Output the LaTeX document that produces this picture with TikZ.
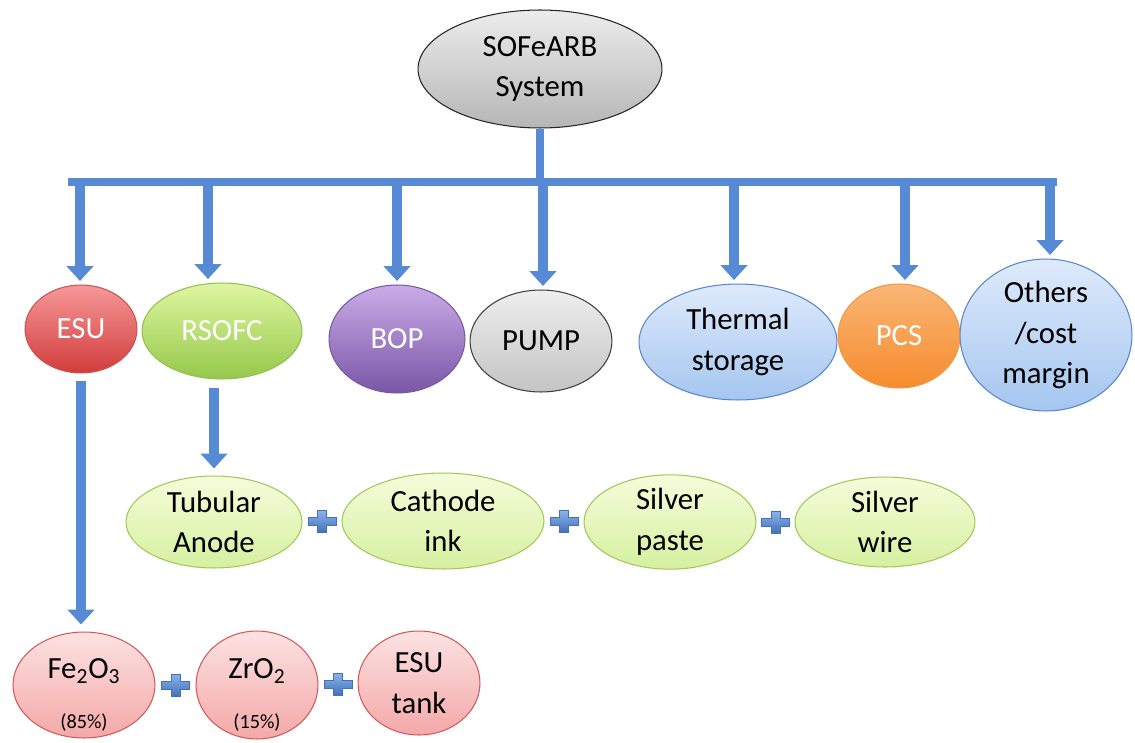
\documentclass[tikz,border=0pt]{standalone}
\usepackage{fontspec}
\setmainfont{Carlito}
\usetikzlibrary{shapes.geometric,arrows.meta,calc}

\definecolor{arrowblue}{RGB}{86,138,212}
\definecolor{arrowdark}{RGB}{66,112,185}
\definecolor{pluslight}{RGB}{140,180,235}

\begin{document}
\begin{tikzpicture}[x=0.02cm,y=-0.02cm,
  lbl/.style={font=\fontsize{17.5}{23}\selectfont, align=center},
  oval/.style n args={2}{ellipse, inner sep=0pt, align=center,
    font=\fontsize{17.5}{23}\selectfont,
    minimum width=#1*0.04cm, minimum height=#2*0.04cm, line width=0.6pt},
  sysnode/.style={top color={rgb,255:red,236;green,236;blue,236}, bottom color={rgb,255:red,182;green,182;blue,182}, draw=black!85},
  esunode/.style={top color={rgb,255:red,246;green,152;blue,152}, bottom color={rgb,255:red,210;green,60;blue,60}, draw={rgb,255:red,200;green,85;blue,85}, text=white},
  rsofcnode/.style={top color={rgb,255:red,222;green,246;blue,160}, bottom color={rgb,255:red,150;green,200;blue,75}, draw={rgb,255:red,150;green,190;blue,85}, text=white},
  bopnode/.style={top color={rgb,255:red,202;green,172;blue,232}, bottom color={rgb,255:red,122;green,86;blue,166}, draw={rgb,255:red,120;green,90;blue,160}, text=white},
  pumpnode/.style={top color={rgb,255:red,238;green,238;blue,238}, bottom color={rgb,255:red,196;green,196;blue,196}, draw=black!75},
  bluenode/.style={top color={rgb,255:red,222;green,234;blue,251}, bottom color={rgb,255:red,165;green,198;blue,240}, draw={rgb,255:red,90;green,135;blue,200}},
  pcsnode/.style={top color={rgb,255:red,250;green,182;blue,118}, bottom color={rgb,255:red,245;green,140;blue,45}, draw={rgb,255:red,240;green,150;blue,70}, text=white},
  partnode/.style={top color={rgb,255:red,245;green,252;blue,218}, bottom color={rgb,255:red,214;green,240;blue,160}, draw={rgb,255:red,160;green,200;blue,90}},
  matnode/.style={top color={rgb,255:red,252;green,226;blue,226}, bottom color={rgb,255:red,244;green,168;blue,168}, draw={rgb,255:red,210;green,90;blue,90}},
  feed/.style={draw=arrowblue, line width=4pt},
  blk/.style={draw=arrowblue, line width=6pt, -{Triangle[width=15pt,length=8.5pt]}, shorten >=2pt},
  plus/.pic={
    \path[top color=pluslight, bottom color=arrowdark, draw=arrowdark, line width=0.3pt]
      (-14,-4) -- (-4.5,-4) -- (-4.5,-11) -- (4.5,-11) -- (4.5,-4) -- (14,-4)
      -- (14,4) -- (4.5,4) -- (4.5,11) -- (-4.5,11) -- (-4.5,4) -- (-14,4) -- cycle;
  }
]
\useasboundingbox (0,0) rectangle (1135,743);

% top of the tree
\node[oval={122}{59}, sysnode] (sys) at (540,69) {SOFeARB\\System};

% components of the system
\node[oval={56}{44}, esunode] (esu) at (81,329) {ESU};
\node[oval={80}{48}, rsofcnode] (rsofc) at (222,331) {RSOFC};
\node[oval={68}{54}, bopnode] (bop) at (397,339) {BOP};
\node[oval={71}{51}, pumpnode] (pump) at (541,341) {PUMP};
\node[oval={99}{58}, bluenode] (therm) at (738,342) {Thermal\\storage};
\node[oval={61}{52}, pcsnode] (pcs) at (899,336) {PCS};
\node[oval={86}{60}, bluenode] (other) at (1046,335) {Others\\/cost\\margin};

% RSOFC parts
\node[oval={88}{46}, partnode] (tub) at (214,522) {Tubular\\Anode};
\node[oval={101}{48}, partnode] (cath) at (443,521) {Cathode\\ink};
\node[oval={86}{47}, partnode] (spaste) at (670,522) {Silver\\paste};
\node[oval={90}{45}, partnode] (swire) at (885,522) {Silver\\wire};

% ESU materials
\node[oval={71}{53}, matnode] (fe) at (84,685) {};
\node[lbl] (fetxt) at (84,695) {Fe\textsubscript{2}O\textsubscript{3}\\[5pt]{\fontsize{11.5}{13}\selectfont (85\%)}};
\node[oval={61}{54}, matnode] (zr) at (257,685) {};
\node[lbl] (zrtxt) at (257,695) {ZrO\textsubscript{2}\\[5pt]{\fontsize{11.5}{13}\selectfont (15\%)}};
\node[oval={61}{52}, matnode] (tank) at (419,683) {ESU\\tank};

% distribution bar
\coordinate (barL) at (68,182);
\coordinate (barR) at (1057,182);
\draw[feed, line width=4.5pt] (sys.south) -- (sys.south |- barL);
\draw[feed] (barL) -- (barR);

% arrows down to the components
\draw[blk] ([xshift=-0.02cm]esu.north |- barL) -- ([xshift=-0.02cm]esu.north);
\draw[blk] ([xshift=-0.28cm]rsofc.north |- barL) -- ([xshift=-0.28cm]rsofc.north);
\draw[blk] (bop.north |- barL) -- (bop.north);
\draw[blk] ([xshift=0.04cm]pump.north |- barL) -- ([xshift=0.04cm]pump.north);
\draw[blk] ([xshift=-0.08cm]therm.north |- barL) -- ([xshift=-0.08cm]therm.north);
\draw[blk] ([xshift=0.12cm]pcs.north |- barL) -- ([xshift=0.12cm]pcs.north);
\draw[blk] ([xshift=0.08cm]other.north |- barL) -- ([xshift=0.08cm]other.north);

% arrows to the second and third levels
\draw[blk, shorten <=5pt, shorten >=4pt] (tub.north |- rsofc.south) -- (tub.north);
\draw[blk, shorten <=4pt, shorten >=4pt] (esu.south) -- (esu.south |- fe.north);

% plus signs between parts
\pic at ($(tub.east)!0.5!(cath.west)$) {plus};
\pic at ($(cath.east)!0.5!(spaste.west)$) {plus};
\pic at ($(spaste.east)!0.5!(swire.west)$) {plus};
\pic at ($(fe.east)!0.5!(zr.west)$) {plus};
\pic at ($(zr.east)!0.5!(tank.west)$) {plus};
\end{tikzpicture}
\end{document}
